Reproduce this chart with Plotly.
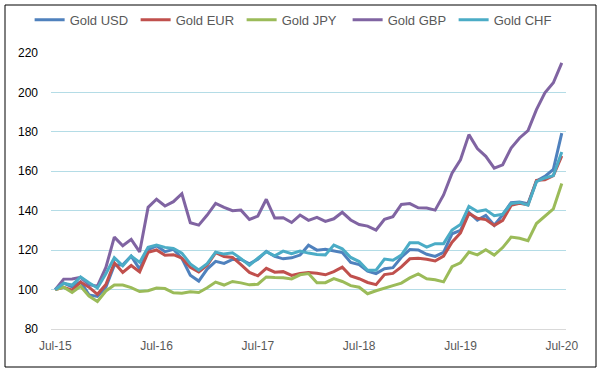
import plotly.graph_objects as go
import pandas as pd

months = [d.strftime("%b-%y") for d in pd.date_range("2015-07-01", periods=61, freq="MS")]

gold_usd = [100, 103.3, 101.4, 104.0, 97.3, 96.5, 101.2, 112.4, 112.6, 117.0, 110.4, 120.2,
            122.2, 119.2, 120.4, 115.8, 107.3, 104.3, 110.4, 114.3, 113.3, 115.3, 115.3, 113.1,
            115.4, 119.4, 116.8, 115.6, 116.1, 117.5, 122.5, 120.0, 120.5, 119.7, 118.8, 113.8,
            112.7, 109.3, 108.1, 110.6, 111.1, 116.4, 120.3, 120.1, 117.9, 116.8, 118.9, 128.3,
            130.0, 139.1, 135.2, 137.6, 132.6, 137.9, 144.1, 144.4, 143.6, 155.0, 157.4, 161.0,
            179.4]
gold_eur = [100, 101.2, 99.7, 103.8, 101.2, 97.6, 102.6, 113.6, 108.7, 112.2, 109.0, 118.9,
            120.1, 117.4, 117.7, 115.9, 111.3, 108.9, 112.3, 118.7, 116.8, 116.3, 112.7, 108.7,
            107.0, 110.8, 108.8, 109.1, 107.2, 108.2, 108.6, 108.3, 107.5, 109.1, 111.4, 106.9,
            105.5, 103.6, 102.5, 107.6, 108.2, 111.5, 115.6, 115.9, 115.4, 114.5, 117.0, 124.0,
            128.7, 138.6, 136.2, 135.5, 132.5, 135.1, 142.7, 143.8, 143.0, 155.4, 155.7, 157.8,
            167.8]
gold_jpy = [100, 101.2, 98.5, 101.7, 96.7, 94.0, 99.3, 102.3, 102.3, 101.0, 99.0, 99.4,
            100.8, 100.5, 98.4, 98.1, 98.9, 98.5, 100.9, 103.8, 102.3, 104.1, 103.4, 102.4,
            102.7, 106.4, 106.1, 106.0, 105.4, 107.5, 108.1, 103.5, 103.5, 105.6, 104.1, 102.0,
            101.2, 97.9, 99.4, 100.9, 102.0, 103.3, 105.9, 107.9, 105.5, 105.0, 103.9, 111.6,
            113.6, 119.0, 117.6, 120.2, 117.5, 121.3, 126.6, 126.0, 124.8, 133.5, 137.0, 140.9,
            153.8]
gold_gbp = [100, 105.3, 105.4, 106.2, 102.5, 101.7, 111.2, 126.6, 122.2, 125.5, 119.1, 141.7,
            145.8, 142.4, 144.6, 148.6, 133.9, 132.7, 137.8, 143.7, 141.7, 140.0, 140.3, 135.6,
            137.3, 145.8, 136.3, 136.4, 134.0, 137.8, 135.1, 136.6, 134.6, 135.9, 139.2, 135.3,
            133.0, 132.2, 130.2, 135.6, 137.0, 143.2, 143.6, 141.5, 141.4, 140.3, 148.0, 159.0,
            165.8, 178.6, 171.5, 167.6, 161.6, 163.3, 171.8, 176.9, 180.6, 191.3, 199.8, 204.9,
            215.0]
gold_chf = [100, 103.2, 102.3, 106.4, 103.5, 100.8, 108.0, 116.2, 112.0, 117.0, 113.8, 121.4,
            122.6, 121.4, 120.9, 118.5, 113.0, 109.9, 113.1, 119.0, 118.0, 118.7, 115.7, 112.3,
            115.9, 119.2, 117.1, 119.5, 118.2, 119.5, 118.5, 117.8, 117.6, 122.6, 120.7, 116.3,
            114.2, 109.8, 109.8, 115.5, 114.9, 117.5, 123.7, 123.8, 121.5, 123.3, 123.3, 130.2,
            133.0, 142.2, 139.6, 140.5, 137.5, 138.2, 143.6, 144.2, 142.8, 154.7, 156.6, 157.8,
            169.8]

series = [
    ("Gold USD", gold_usd, "#4F81BD"),
    ("Gold EUR", gold_eur, "#C0504D"),
    ("Gold JPY", gold_jpy, "#9BBB59"),
    ("Gold GBP", gold_gbp, "#8064A2"),
    ("Gold CHF", gold_chf, "#4BACC6"),
]

tick_labels = ["Jul-15", "Jul-16", "Jul-17", "Jul-18", "Jul-19", "Jul-20"]
y_ticks = [80, 100, 120, 140, 160, 180, 200, 220]

fig = go.Figure()
for name, vals, color in series:
    fig.add_trace(go.Scatter(x=months, y=vals, name=name, mode="lines",
                             line=dict(color=color, width=3)))

FONT = "Liberation Sans, Arial, sans-serif"
fig.update_layout(
    width=601, height=378,
    margin=dict(l=51, r=35, t=53, b=49, autoexpand=False),
    paper_bgcolor="white", plot_bgcolor="white",
    font=dict(family=FONT, size=12, color="#595959"),
    showlegend=True,
    legend=dict(orientation="h", x=-0.0415, xanchor="left", y=1.12, yanchor="middle",
                itemwidth=30, entrywidth=61, entrywidthmode="pixels",
                font=dict(family=FONT, size=13, color="#595959"),
                bgcolor="rgba(0,0,0,0)", tracegroupgap=0),
    xaxis=dict(type="category", range=[-0.5, 60.5], tickmode="array",
               tickvals=tick_labels, ticktext=tick_labels,
               showgrid=False, showline=True, linecolor="#D9D9D9", linewidth=1,
               ticks="", zeroline=False, ticklabelstandoff=6,
               tickfont=dict(family=FONT, size=12, color="#595959")),
    yaxis=dict(range=[80, 220], tickmode="array", tickvals=y_ticks,
               showgrid=True, gridcolor="#B4DCE6", gridwidth=1,
               zeroline=False, showline=False, ticks="", ticklabelstandoff=12,
               tickfont=dict(family=FONT, size=12, color="#000000")),
    shapes=[dict(type="rect", xref="paper", yref="paper",
                 x0=(5 - 51) / 515, x1=(596 - 51) / 515,
                 y0=(329 - 367) / 276, y1=(329 - 5) / 276,
                 line=dict(color="black", width=1), fillcolor="rgba(0,0,0,0)",
                 layer="below")],
)

fig.write_html("out.html", config={"displayModeBar": False},
               post_script="document.body.style.margin='0px';document.body.style.overflow='hidden';")
